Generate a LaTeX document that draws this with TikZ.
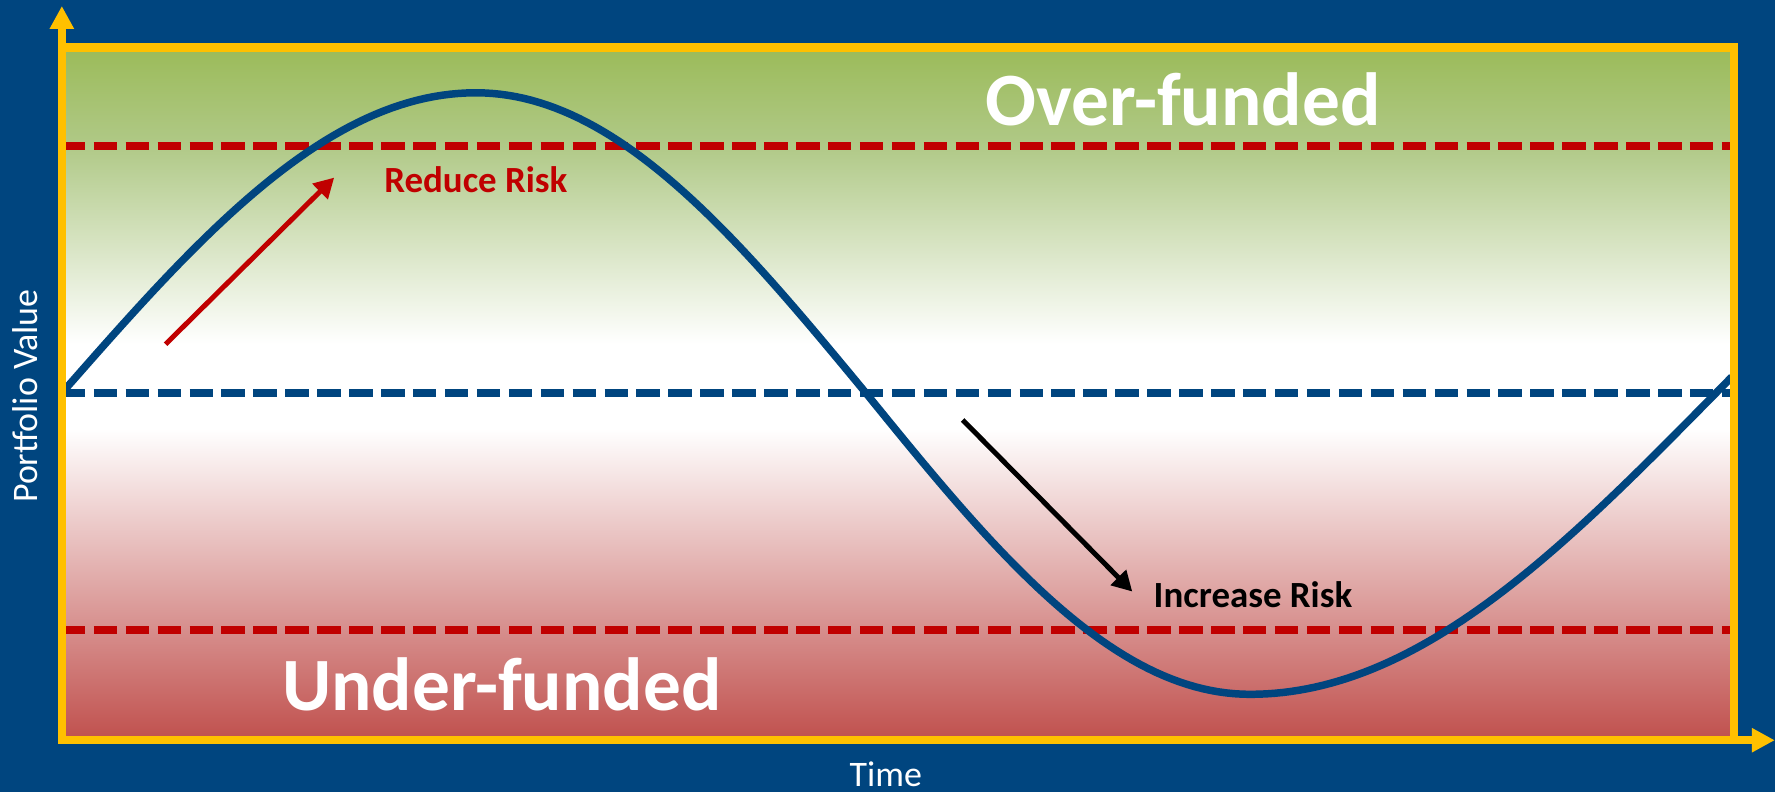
\documentclass[tikz,border=0pt]{standalone}
\usepackage{fontspec}
\setmainfont{Carlito}
\usetikzlibrary{arrows.meta}

\definecolor{navy}{HTML}{00457F}
\definecolor{axisyellow}{HTML}{FFC000}
\definecolor{riskred}{HTML}{C00000}
\definecolor{fundgreen}{HTML}{9BBB59}
\definecolor{fundgreenlight}{HTML}{B0C987}
\definecolor{fundred}{HTML}{C0504D}

% green at the top, white band round the target, red at the bottom
\pgfdeclareverticalshading{funding}{100bp}{color(0bp)=(fundred); color(25bp)=(fundred);
  color(47.5bp)=(white); color(53.6bp)=(white); color(67.9bp)=(fundgreenlight);
  color(75bp)=(fundgreen); color(100bp)=(fundgreen)}

\tikzset{
    %Define standard arrow tip
    >={Triangle[width=21pt,length=20pt]},
    axis/.style={
      draw=axisyellow,
      line width=8.5pt,
      -{Triangle[width=23pt,length=23pt]}},
    threshold/.style={
      line width=8pt,
      dash pattern=on 23.5pt off 8.5pt},
    riskarrow/.style={
      line width=5pt, ->},
    zone/.style={
      text=white,
      font=\bfseries\fontsize{75.5}{80}\selectfont},
    note/.style={
      font=\bfseries\fontsize{37}{40}\selectfont},
    axislabel/.style={
      text=white,
      font=\fontsize{36}{40}\selectfont}
}

\begin{document}
\begin{tikzpicture}[x=1pt,y=1pt]
\fill[navy] (0,0) rectangle (1779,794);
\coordinate (origin) at (62,52);
\coordinate (corner) at (1738,746.5);
\shade[shading=funding] (origin) rectangle (corner);

% funding levels
\draw[threshold, riskred] (62,648) -- (1738,648);
\draw[threshold, navy] (62,400) -- (1738,400);
\draw[threshold, riskred] (62,162) -- (1738,162);

% portfolio value over time (quarter waves of unequal width)
\draw[navy, line width=7.5pt, line join=round]
  plot[variable=\x, domain=62:477, samples=50] (\x, {400+301*sin(((\x-62)/415)*90)})
  -- plot[variable=\x, domain=477:868, samples=50] (\x, {400+301*cos(((\x-477)/391)*90)})
  -- plot[variable=\x, domain=868:1253, samples=50] (\x, {400-302*sin(((\x-868)/385)*90)})
  -- plot[variable=\x, domain=1253:1736, samples=60] (\x, {400-302*cos(((\x-1253)/467)*90)});

\coordinate (reducefrom) at (166,449);
\coordinate (reduceto) at (335,616);
\coordinate (increasefrom) at (965,373);
\coordinate (increaseto) at (1135,201);
\draw[riskarrow, riskred] (reducefrom) -- (reduceto);
\draw[riskarrow, black] (increasefrom) -- (increaseto);

\node[note, text=riskred] (reduce) at (477,614) {Reduce Risk};
\node[note] (increase) at (1256,198) {Increase Risk};
\node[zone] (over) at (1186,694) {Over-funded};
\node[zone] (under) at (503,108) {Under-funded};

% frame and axes
\draw[axisyellow, line width=8.5pt] (origin) rectangle (corner);
\coordinate (ytip) at (62,788);
\coordinate (xtip) at (1779,52);
\draw[axis] (origin) -- (ytip);
\draw[axis] (origin) -- (xtip);
\node[axislabel, rotate=90] (yaxis) at (25,397) {Portfolio Value};
\node[axislabel] (xaxis) at (888,18) {Time};
\end{tikzpicture}
\end{document}
